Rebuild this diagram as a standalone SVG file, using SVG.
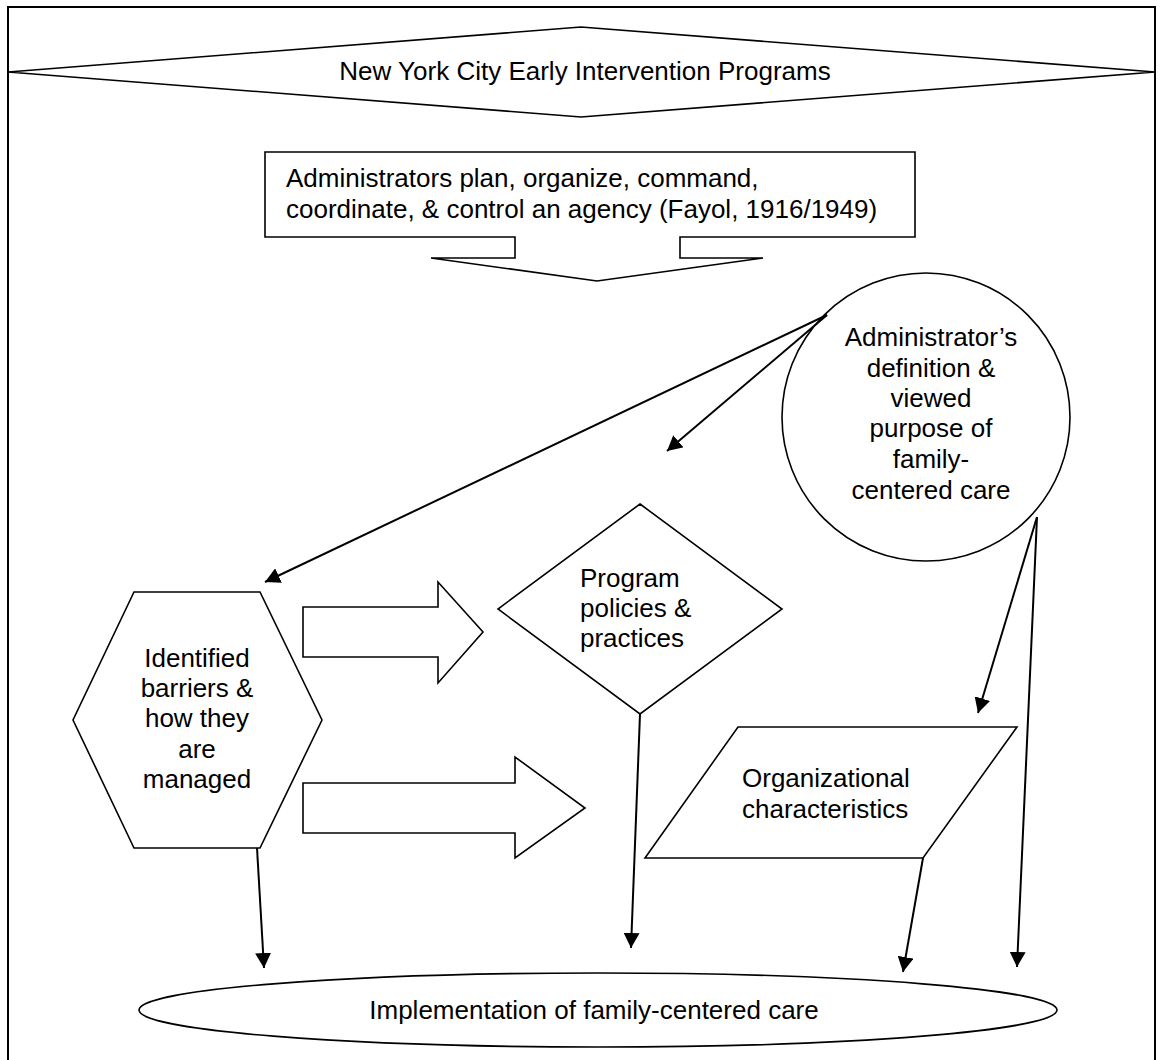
<svg xmlns="http://www.w3.org/2000/svg" width="1163" height="1060" viewBox="0 0 1163 1060">
<defs>
<style>
.shape{fill:#fff;stroke:#000;stroke-width:1.6;stroke-linejoin:miter}
.frame{fill:#fff;stroke:#000;stroke-width:2}
.conn{fill:none;stroke:#000;stroke-width:2}
text{font-family:"Liberation Sans",Arial,sans-serif;font-size:26px;fill:#000}
.c{text-anchor:middle}
</style>
<marker id="ah" markerUnits="userSpaceOnUse" markerWidth="16" markerHeight="16" refX="15" refY="8" orient="auto">
<path d="M0,0 L15,8 L0,16 z" fill="#000"/>
</marker>
</defs>
<rect class="frame" x="8" y="7" width="1147" height="1070"/>
<g id="title">
<polygon class="shape" points="8,72 581,27 1155,72 581,117"/>
<text class="c" x="585" y="80">New York City Early Intervention Programs</text>
</g>
<g id="administrators">
<path class="shape" d="M265,152 H915 V237 H680 V258 H763 L597,281 L431,258 H515 V237 H265 Z"/>
<text x="286" y="187">Administrators plan, organize, command,</text>
<text x="286" y="218">coordinate, &amp; control an agency (Fayol, 1916/1949)</text>
</g>
<g id="definition">
<circle class="shape" cx="926" cy="417" r="144"/>
<text class="c" x="931" y="346">Administrator’s</text>
<text class="c" x="931" y="377">definition &amp;</text>
<text class="c" x="931" y="407">viewed</text>
<text class="c" x="931" y="437">purpose of</text>
<text class="c" x="931" y="468">family-</text>
<text class="c" x="931" y="499">centered care</text>
</g>
<g id="barriers">
<polygon class="shape" points="134,592 260,592 322,720 260,848 134,848 73,720"/>
<text class="c" x="197" y="667">Identified</text>
<text class="c" x="197" y="697">barriers &amp;</text>
<text class="c" x="197" y="727">how they</text>
<text class="c" x="197" y="758">are</text>
<text class="c" x="197" y="788">managed</text>
</g>
<g id="policies">
<polygon class="shape" points="640,504 782,609 640,714 498,609"/>
<text x="580" y="587">Program</text>
<text x="580" y="617">policies &amp;</text>
<text x="580" y="647">practices</text>
</g>
<g id="organizational">
<polygon class="shape" points="738,727 1017,727 923,858 645,858"/>
<text x="742" y="787">Organizational</text>
<text x="742" y="818">characteristics</text>
</g>
<g id="block-arrow-1">
<polygon class="shape" points="303,607 438,607 438,582 483,632 438,683 438,657 303,657"/>
</g>
<g id="block-arrow-2">
<polygon class="shape" points="303,783 515,783 515,757 585,808 515,858 515,833 303,833"/>
</g>
<g id="implementation">
<ellipse class="shape" cx="598" cy="1010" rx="459" ry="37"/>
<text class="c" x="594" y="1019">Implementation of family-centered care</text>
</g>
<g id="connectors">
<line class="conn" x1="827" y1="315" x2="265" y2="582" marker-end="url(#ah)"/>
<line class="conn" x1="827" y1="315" x2="667" y2="451" marker-end="url(#ah)"/>
<line class="conn" x1="1037" y1="517" x2="978" y2="713" marker-end="url(#ah)"/>
<line class="conn" x1="1037" y1="517" x2="1017" y2="967" marker-end="url(#ah)"/>
<line class="conn" x1="257" y1="848" x2="264" y2="968" marker-end="url(#ah)"/>
<line class="conn" x1="640" y1="714" x2="631" y2="948" marker-end="url(#ah)"/>
<line class="conn" x1="923" y1="858" x2="903" y2="972" marker-end="url(#ah)"/>
</g>
</svg>
